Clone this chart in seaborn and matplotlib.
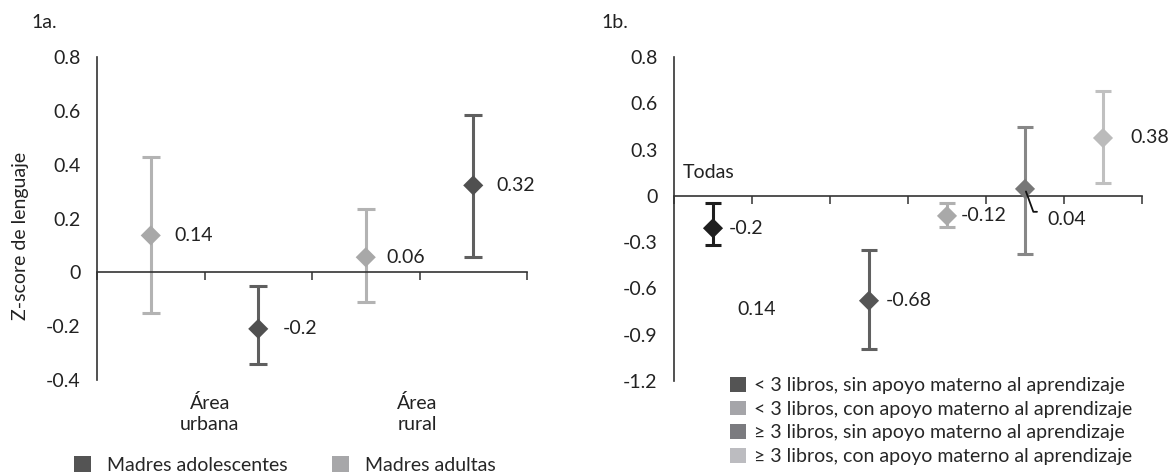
import matplotlib
matplotlib.use("Agg")
import matplotlib.pyplot as plt
from matplotlib.patches import Patch
import numpy as np
import seaborn as sns

# --- Data: panel 1a (language z-score by area and mother's age) ---
a_slots = ["urbana-adultas", "urbana-adolescentes", "rural-adultas", "rural-adolescentes"]
a_group = ["Madres adultas", "Madres adolescentes", "Madres adultas", "Madres adolescentes"]
a_mean = [0.137, -0.21, 0.056, 0.323]
a_low = [-0.15, -0.34, -0.11, 0.056]
a_high = [0.43, -0.05, 0.234, 0.584]
a_text = ["0.14", "-0.2", "0.06", "0.32"]
area_labels = ["Área\nurbana", "Área\nrural"]
a_yticks = [-0.4, -0.2, 0, 0.2, 0.4, 0.6, 0.8]
a_yticklabels = ["-0.4", "-0.2", "0", "0.2", "0.4", "0.6", "0.8"]

# --- Data: panel 1b (books at home x maternal learning support) ---
b_slots = ["Todas", "",
           "< 3 libros, sin apoyo materno al aprendizaje",
           "< 3 libros, con apoyo materno al aprendizaje",
           "≥ 3 libros, sin apoyo materno al aprendizaje",
           "≥ 3 libros, con apoyo materno al aprendizaje"]
b_group = ["Todas",
           "< 3 libros, sin apoyo materno al aprendizaje",
           "< 3 libros, con apoyo materno al aprendizaje",
           "≥ 3 libros, sin apoyo materno al aprendizaje",
           "≥ 3 libros, con apoyo materno al aprendizaje"]
b_mean = [-0.21, -0.68, -0.13, 0.045, 0.375]
b_low = [-0.32, -0.99, -0.205, -0.38, 0.084]
b_high = [-0.045, -0.35, -0.045, 0.445, 0.68]
b_text = ["-0.2", "-0.68", "-0.12", "0.04", "0.38"]
b_yticks = [-1.2, -0.9, -0.6, -0.3, 0, 0.3, 0.6, 0.9]
b_yticklabels = ["-1.2", "-0.9", "-0.6", "-0.3", "0", "0.3", "0.6", "0.8"]

# colours
a_marker = {"Madres adultas": "#a8a8a8", "Madres adolescentes": "#505050"}
a_bar = {"Madres adultas": "#b3b3b3", "Madres adolescentes": "#5f5f5f"}
b_marker = dict(zip(b_group, ["#1e1e1e", "#555555", "#a9a9a9", "#777777", "#bbbbbb"]))
b_bar = dict(zip(b_group, ["#1e1e1e", "#606060", "#b0b0b0", "#878787", "#c0c0c0"]))
b_legend_col = ["#545454", "#a5a5a9", "#7b7b7f", "#bcbcc0"]
a_legend_col = {"Madres adolescentes": "#545454", "Madres adultas": "#a7a7a9"}

sns.set_theme(style="white")
plt.rcParams['font.family'] = ['Lato', 'DejaVu Sans']
FS = 14
AX_COL = "#333333"
TXT_COL = "#222222"

fig = plt.figure(figsize=(11.73, 4.75), dpi=100)
ax1 = fig.add_axes([97 / 1173, 0.2, 430 / 1173, 0.68])
ax2 = fig.add_axes([674 / 1173, 0.198, 468 / 1173, 0.682])


def style_axis(ax, nslots, ylim, yticks, yticklabels):
    ax.set_xlim(0, nslots)
    ax.set_ylim(*ylim)
    for s in ["top", "right"]:
        ax.spines[s].set_visible(False)
    ax.spines["bottom"].set_position(("data", 0))
    for s in ["left", "bottom"]:
        ax.spines[s].set_color(AX_COL)
        ax.spines[s].set_linewidth(1.2)
    ax.set_xticks(range(nslots + 1))
    ax.set_xticklabels([])
    ax.set_yticks(yticks)
    ax.set_yticklabels(yticklabels, fontsize=FS, color=TXT_COL)
    ax.tick_params(axis="x", direction="out", length=6, width=1.1, color=AX_COL, bottom=True)
    ax.tick_params(axis="y", length=0, pad=12)
    ax.set_xlabel("")
    ax.set_ylabel("")
    ax.grid(False)


# ---- panel 1a ----
a_x = np.arange(len(a_slots)) + 0.5
for x, m, lo, hi, g in zip(a_x, a_mean, a_low, a_high, a_group):
    ax1.errorbar(x, m, yerr=[[m - lo], [hi - m]], fmt="none", ecolor=a_bar[g],
                 elinewidth=2.2, capsize=6.5, capthick=2.2, zorder=2)
sns.scatterplot(x=a_x, y=a_mean, hue=a_group, palette=a_marker, marker="D", s=105,
                edgecolor="none", legend=False, ax=ax1, zorder=3)
a_dx = [17, 18, 15, 17]
for x, m, t, dx in zip(a_x, a_mean, a_text, a_dx):
    ax1.annotate(t, (x, m), xytext=(dx, 0), textcoords="offset points",
                 ha="left", va="center", fontsize=FS, color=TXT_COL)
style_axis(ax1, len(a_slots), (-0.4, 0.8), a_yticks, a_yticklabels)
for xl, lab in zip([1.05, 2.98], area_labels):
    ax1.text(xl, -0.105, lab, transform=ax1.get_xaxis_transform(), ha="center",
             va="center", fontsize=FS, linespacing=1.28, color=TXT_COL)

# ---- panel 1b ----
b_x = np.array([b_slots.index(g) for g in b_group]) + 0.5
for x, m, lo, hi, g in zip(b_x, b_mean, b_low, b_high, b_group):
    ax2.errorbar(x, m, yerr=[[m - lo], [hi - m]], fmt="none", ecolor=b_bar[g],
                 elinewidth=2.2, capsize=6, capthick=2.2, zorder=2)
sns.scatterplot(x=b_x, y=b_mean, hue=b_group, palette=b_marker, marker="D", s=105,
                edgecolor="none", legend=False, ax=ax2, zorder=3)
b_dx = [11.5, 12, 10, 16, 20]
b_dy = [0, 0, 0, -22, 0]
for i, (x, m, t) in enumerate(zip(b_x, b_mean, b_text)):
    if b_dy[i] != 0:
        ax2.annotate(t, (x, m), xytext=(b_dx[i], b_dy[i]), textcoords="offset points",
                     ha="left", va="center", fontsize=FS, color=TXT_COL,
                     arrowprops=dict(arrowstyle="-", color="#111111", lw=1.3,
                                     connectionstyle="angle,angleA=180,angleB=-70",
                                     shrinkA=5, shrinkB=2, relpos=(0, 0.95)))
    else:
        ax2.annotate(t, (x, m), xytext=(b_dx[i], b_dy[i]), textcoords="offset points",
                     ha="left", va="center", fontsize=FS, color=TXT_COL)
style_axis(ax2, len(b_slots), (-1.2, 0.9), b_yticks, b_yticklabels)
ax2.text(0.115, 0.15, "Todas", ha="left", va="center", fontsize=FS, color=TXT_COL)
ax2.text(0.81, -0.74, "0.14", ha="left", va="center", fontsize=FS, color=TXT_COL)

# ---- titles, y label ----
fig.text(31 / 1173, 1 - 23 / 475, "1a.", ha="left", va="center", fontsize=FS, color=TXT_COL)
fig.text(601 / 1173, 1 - 23 / 475, "1b.", ha="left", va="center", fontsize=FS, color=TXT_COL)
fig.text(21 / 1173, 1 - 236 / 475, "Z-score de lenguaje", rotation=90, ha="center",
         va="center", fontsize=FS, color=TXT_COL)

# ---- legends ----
h_a = [Patch(facecolor=a_legend_col[k], edgecolor="none", label=k)
       for k in ["Madres adolescentes", "Madres adultas"]]
fig.legend(handles=h_a, loc="center left", bbox_to_anchor=(74 / 1173, 1 - 465 / 475),
           ncol=2, frameon=False, fontsize=FS, handlelength=0.85, handleheight=0.85,
           handletextpad=0.85, columnspacing=2.3, borderpad=0, borderaxespad=0)

h_b = [Patch(facecolor=c, edgecolor="none", label=g) for c, g in zip(b_legend_col, b_group[1:])]
fig.legend(handles=h_b, loc="upper left", bbox_to_anchor=(730 / 1173, 1 - 377 / 475),
           ncol=1, frameon=False, fontsize=FS, handlelength=0.8, handleheight=0.8,
           handletextpad=0.42, labelspacing=0.33, borderpad=0, borderaxespad=0)

plt.savefig("out.png", dpi=100)
plt.close()
